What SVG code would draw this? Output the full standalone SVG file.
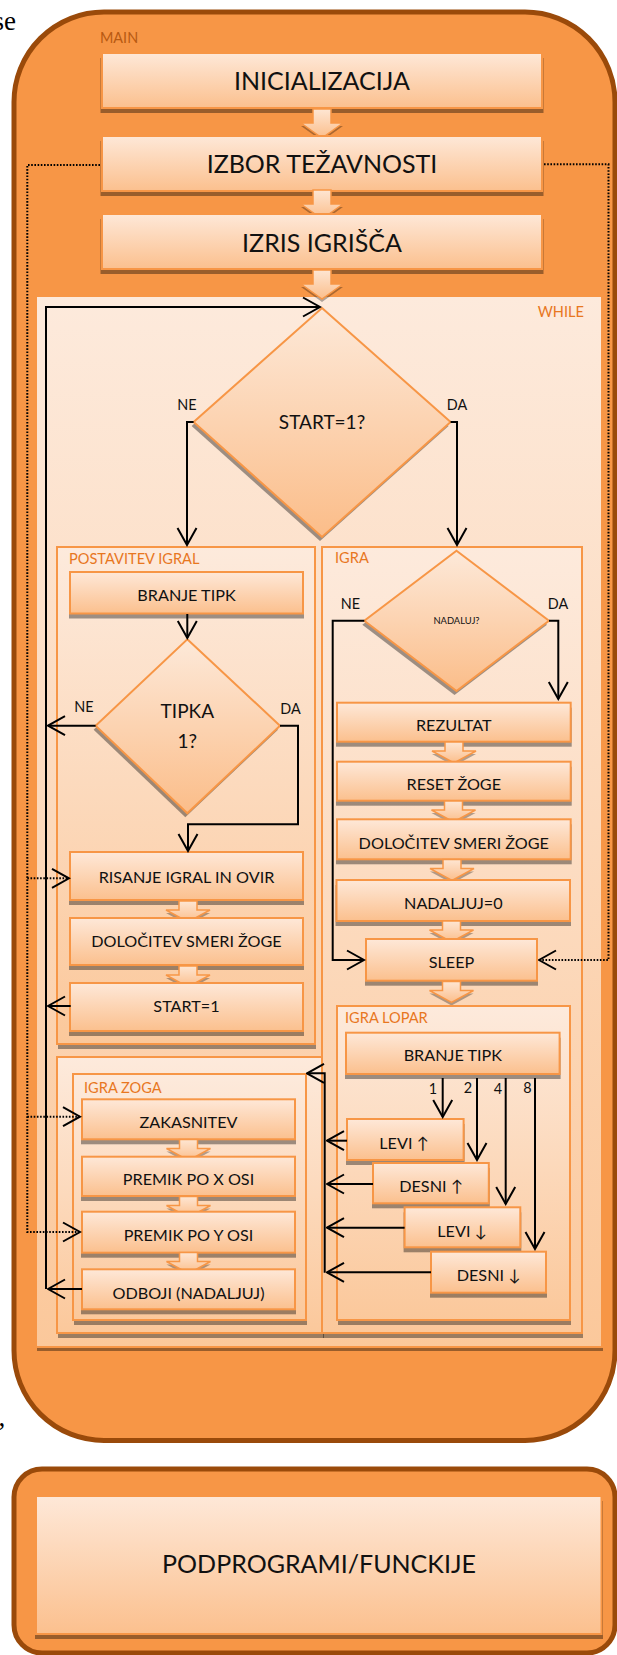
<svg xmlns="http://www.w3.org/2000/svg" width="617" height="1655" viewBox="0 0 617 1655">
<defs>
<linearGradient id="gBox" x1="0" y1="0" x2="0" y2="1"><stop offset="0" stop-color="#FEE8D8"/><stop offset="1" stop-color="#FBC08E"/></linearGradient>
<linearGradient id="gCont" x1="0" y1="0" x2="0" y2="1"><stop offset="0" stop-color="#FDEADC"/><stop offset="1" stop-color="#FBC89B"/></linearGradient>
<linearGradient id="gDia" x1="0" y1="0" x2="0" y2="1"><stop offset="0" stop-color="#FDE9D9"/><stop offset="1" stop-color="#FBBD89"/></linearGradient>
<linearGradient id="gArr" x1="0" y1="0" x2="0" y2="1"><stop offset="0" stop-color="#FEE6D3"/><stop offset="1" stop-color="#FBBE8B"/></linearGradient>
<marker id="ah" viewBox="0 0 20 22" refX="18.5" refY="11" markerWidth="20" markerHeight="22" markerUnits="userSpaceOnUse" orient="auto"><path d="M1.5,1.5 L18.5,11 L1.5,20.5" fill="none" stroke="#000" stroke-width="2"/></marker>
<g id="bam"><path d="M-9,0 H9 V14 H21 L0,29 L-21,14 H-9 Z" transform="translate(0,3)" fill="#000" fill-opacity="0.3"/><path d="M-9,0 H9 V14 H21 L0,29 L-21,14 H-9 Z" fill="url(#gArr)" stroke="#F79646" stroke-width="1.5"/></g>
<g id="bas"><path d="M-9,0 H9 V9 H22 L0,21 L-22,9 H-9 Z" transform="translate(0,3)" fill="#000" fill-opacity="0.3"/><path d="M-9,0 H9 V9 H22 L0,21 L-22,9 H-9 Z" fill="url(#gArr)" stroke="#F79646" stroke-width="1.5"/></g>
<style>
.main{fill:#F79646;stroke:#9A4A0A;stroke-width:5}
.cont{fill:url(#gCont);stroke:#F79646;stroke-width:2}
.box{fill:url(#gBox);stroke:#F79646;stroke-width:2}
.sh{fill:#000;fill-opacity:0.38}
.dia{fill:url(#gDia);stroke:#F79646;stroke-width:2}
text{font-family:Lato,"Open Sans","DejaVu Sans",sans-serif;fill:#111}
.c{text-anchor:middle}
.big{font-size:25px}
.bt{font-size:16.2px}
.lbl{fill:#E8771F;font-size:14.6px}
.yn{font-size:14.4px}
.ln{fill:none;stroke:#000;stroke-width:2}
.dot{fill:none;stroke:#000;stroke-width:2;stroke-dasharray:1.6 1.6}
.ser{font-family:"Liberation Serif","Times New Roman",serif;font-size:27px;fill:#000}
</style>
</defs>

<text class="ser" x="16" y="30" text-anchor="end">se</text>
<text class="ser" x="-1.5" y="1426">,</text>

<g id="main">
<rect class="main" x="14" y="12" width="601" height="1428.5" rx="90" ry="90"/>
<text x="100" y="42.5" style="fill:#B85A12;font-size:14.4px">MAIN</text>
</g>

<g id="n-init">
<rect class="sh" x="100.5" y="58" width="443" height="55"/>
<rect class="box" x="102" y="53" width="440" height="55"/>
<text class="c big" x="322" y="90">INICIALIZACIJA</text>
</g>
<use href="#bam" x="322" y="109"/>
<g id="n-izbor">
<rect class="sh" x="100.5" y="141" width="443" height="55"/>
<rect class="box" x="102" y="136" width="440" height="55"/>
<text class="c big" x="322" y="173">IZBOR TEŽAVNOSTI</text>
</g>
<use href="#bam" x="322" y="190"/>
<g id="n-izris">
<rect class="sh" x="100.5" y="219" width="443" height="55"/>
<rect class="box" x="102" y="214" width="440" height="55"/>
<text class="c big" x="322" y="251.5">IZRIS IGRIŠČA</text>
</g>

<g id="while">
<rect class="sh" x="37" y="300" width="566" height="1051"/>
<rect class="cont" x="36" y="296" width="566" height="1051"/>
<text class="lbl" x="584" y="317" text-anchor="end">WHILE</text>
</g>
<use href="#bam" x="322" y="270"/>

<g id="n-start">
<polygon class="sh" points="320,312 448.6,426 320,541 191.6,426"/>
<polygon class="dia" points="322,308 450.6,422 322,537 193.6,422"/>
<text class="c" x="322" y="428.5" style="font-size:19px">START=1?</text>
</g>

<g id="postavitev">
<rect class="sh" x="58" y="552" width="258" height="497"/>
<rect class="cont" x="57" y="547" width="258" height="497"/>
<text class="lbl" x="69" y="564">POSTAVITEV IGRAL</text>
</g>
<g id="left-bottom">
<rect class="sh" x="58" y="1062" width="266" height="276"/>
<rect class="cont" x="57" y="1057" width="266" height="276"/>
</g>
<g id="igra">
<rect class="sh" x="323" y="552" width="260" height="786"/>
<rect class="cont" x="322" y="547" width="260" height="786"/>
<text class="lbl" x="335" y="563">IGRA</text>
</g>

<g id="n-branje1">
<rect class="sh" x="69" y="577" width="235" height="41.5"/>
<rect class="box" x="70" y="572" width="233" height="41.5"/>
<text class="c bt" x="186.5" y="600.8">BRANJE TIPK</text>
</g>
<g id="n-tipka">
<polygon class="sh" points="185.3,643.3 278,729.7 185.3,817.3 93.6,729.7"/>
<polygon class="dia" points="187.3,639.3 280,725.7 187.3,813.3 95.6,725.7"/>
<text class="c" x="187.3" y="717.5" style="font-size:19px">TIPKA</text>
<text class="c" x="187.3" y="747.8" style="font-size:19px">1?</text>
</g>
<g id="n-risanje">
<rect class="sh" x="69" y="857" width="235" height="48"/>
<rect class="box" x="70" y="852" width="233" height="48"/>
<text class="c bt" x="186.5" y="882.8">RISANJE IGRAL IN OVIR</text>
</g>
<use href="#bas" x="188" y="901"/>
<g id="n-dolocitev1">
<rect class="sh" x="69" y="923" width="235" height="47"/>
<rect class="box" x="70" y="918" width="233" height="47"/>
<text class="c bt" x="186.5" y="946.8">DOLOČITEV SMERI ŽOGE</text>
</g>
<use href="#bas" x="188" y="966"/>
<g id="n-start1">
<rect class="sh" x="69" y="988" width="235" height="48"/>
<rect class="box" x="70" y="983" width="233" height="48"/>
<text class="c bt" x="186.5" y="1011.8">START=1</text>
</g>

<g id="n-nadaluj">
<polygon class="sh" points="454.5,554.7 547,624.7 454.5,695 362.3,624.7"/>
<polygon class="dia" points="456.5,550.7 549,620.7 456.5,691 364.3,620.7"/>
<text class="c" x="456.5" y="624" style="font-size:9.4px">NADALUJ?</text>
</g>
<g id="n-rezultat">
<rect class="sh" x="336" y="707.7" width="235.7" height="39"/>
<rect class="box" x="337" y="702.7" width="233.7" height="39"/>
<text class="c bt" x="453.8" y="730.8">REZULTAT</text>
</g>
<use href="#bas" x="454" y="742"/>
<g id="n-reset">
<rect class="sh" x="336" y="766.7" width="235.7" height="39"/>
<rect class="box" x="337" y="761.7" width="233.7" height="39"/>
<text class="c bt" x="453.8" y="789.8">RESET ŽOGE</text>
</g>
<use href="#bas" x="453.5" y="801"/>
<g id="n-dolocitev2">
<rect class="sh" x="336" y="824.3" width="235.7" height="40"/>
<rect class="box" x="337" y="819.3" width="233.7" height="40"/>
<text class="c bt" x="453.8" y="849">DOLOČITEV SMERI ŽOGE</text>
</g>
<use href="#bas" x="452" y="859.5"/>
<g id="n-nadaljuj0">
<rect class="sh" x="335.5" y="885" width="235.5" height="41"/>
<rect class="box" x="336.5" y="880" width="233.5" height="41"/>
<text class="c bt" x="453.3" y="908.8">NADALJUJ=0</text>
</g>
<use href="#bas" x="451.5" y="921"/>
<g id="n-sleep">
<rect class="sh" x="365" y="944" width="173" height="41.7"/>
<rect class="box" x="366" y="939" width="171" height="41.7"/>
<text class="c bt" x="451.5" y="967.8">SLEEP</text>
</g>
<use href="#bas" x="451.5" y="981.5"/>

<g id="igra-lopar">
<rect class="sh" x="338" y="1011" width="233" height="314"/>
<rect class="cont" x="337" y="1006" width="233" height="314"/>
<text class="lbl" x="345" y="1023">IGRA LOPAR</text>
</g>
<g id="n-branje2">
<rect class="sh" x="345" y="1037.7" width="215.6" height="41.3"/>
<rect class="box" x="346" y="1032.7" width="213.6" height="41.3"/>
<text class="c bt" x="452.8" y="1060.8">BRANJE TIPK</text>
</g>
<g id="n-levi-gor">
<rect class="sh" x="346" y="1124" width="118.6" height="41"/>
<rect class="box" x="347" y="1119" width="116.6" height="41"/>
<text class="c bt" x="404" y="1148.5">LEVI ↑</text>
</g>
<g id="n-desni-gor">
<rect class="sh" x="372" y="1168" width="117.8" height="40.3"/>
<rect class="box" x="373" y="1163" width="115.8" height="40.3"/>
<text class="c bt" x="431" y="1191.8">DESNI ↑</text>
</g>
<g id="n-levi-dol">
<rect class="sh" x="403.6" y="1212.3" width="117.7" height="40"/>
<rect class="box" x="404.6" y="1207.3" width="115.7" height="40"/>
<text class="c bt" x="462" y="1236.5">LEVI ↓</text>
</g>
<g id="n-desni-dol">
<rect class="sh" x="430" y="1256.7" width="117" height="41"/>
<rect class="box" x="431" y="1251.7" width="115" height="41"/>
<text class="c bt" x="488.5" y="1280.8">DESNI ↓</text>
</g>

<g id="igra-zoga">
<rect class="sh" x="74" y="1079" width="233" height="246"/>
<rect class="cont" x="73" y="1074" width="233" height="246"/>
<text class="lbl" x="84" y="1093">IGRA ZOGA</text>
</g>
<g id="n-zakasnitev">
<rect class="sh" x="81" y="1104.3" width="215" height="40"/>
<rect class="box" x="82" y="1099.3" width="213" height="40"/>
<text class="c bt" x="188.5" y="1127.5">ZAKASNITEV</text>
</g>
<use href="#bas" x="188.5" y="1139.5"/>
<g id="n-premik-x">
<rect class="sh" x="81" y="1161.7" width="215" height="39.3"/>
<rect class="box" x="82" y="1156.7" width="213" height="39.3"/>
<text class="c bt" x="188.5" y="1185">PREMIK PO X OSI</text>
</g>
<use href="#bas" x="188.5" y="1196.5"/>
<g id="n-premik-y">
<rect class="sh" x="81" y="1216.7" width="215" height="41"/>
<rect class="box" x="82" y="1211.7" width="213" height="41"/>
<text class="c bt" x="188.5" y="1240.8">PREMIK PO Y OSI</text>
</g>
<use href="#bas" x="188.5" y="1252.5"/>
<g id="n-odboji">
<rect class="sh" x="81" y="1274.3" width="215" height="40"/>
<rect class="box" x="82" y="1269.3" width="213" height="40"/>
<text class="c bt" x="188.5" y="1298.5">ODBOJI (NADALJUJ)</text>
</g>

<g id="connectors">
<path class="ln" d="M46,1289 V307 H320" marker-end="url(#ah)"/>
<path class="ln" d="M95.6,725.7 H48" marker-end="url(#ah)"/>
<path class="ln" d="M70.7,1006 H48" marker-end="url(#ah)"/>
<path class="ln" d="M82,1289 H48" marker-end="url(#ah)"/>
<path class="ln" d="M193.6,422 H187 V545" marker-end="url(#ah)"/>
<path class="ln" d="M450.6,422 H457 V545" marker-end="url(#ah)"/>
<path class="ln" d="M187.3,614 V638" marker-end="url(#ah)"/>
<path class="ln" d="M280,725.7 H298 V824.3 H188 V851" marker-end="url(#ah)"/>
<path class="ln" d="M364.3,620.7 H332.7 V960 H364" marker-end="url(#ah)"/>
<path class="ln" d="M549,620.7 H558.3 V699" marker-end="url(#ah)"/>
<path class="ln" d="M442.7,1078 V1117" marker-end="url(#ah)"/>
<path class="ln" d="M477,1078 V1160" marker-end="url(#ah)"/>
<path class="ln" d="M505.7,1078 V1204" marker-end="url(#ah)"/>
<path class="ln" d="M535,1078 V1249" marker-end="url(#ah)"/>
<path class="ln" d="M324.7,1272.7 V1073.3 H307" marker-end="url(#ah)"/>
<path class="ln" d="M347,1140.7 H327" marker-end="url(#ah)"/>
<path class="ln" d="M373,1184 H327" marker-end="url(#ah)"/>
<path class="ln" d="M404.6,1227.7 H327" marker-end="url(#ah)"/>
<path class="ln" d="M431,1272.3 H327" marker-end="url(#ah)"/>
<path class="dot" d="M100,165 H27.3 V1232 H80" marker-end="url(#ah)"/>
<path class="dot" d="M27.3,878.3 H69" marker-end="url(#ah)"/>
<path class="dot" d="M27.3,1116.7 H80" marker-end="url(#ah)"/>
<path class="dot" d="M544,164.3 H608.5 V960 H539" marker-end="url(#ah)"/>
<text class="c yn" x="187" y="410">NE</text>
<text class="c yn" x="457" y="410">DA</text>
<text class="c yn" x="84" y="712">NE</text>
<text class="c yn" x="290.5" y="714">DA</text>
<text class="c yn" x="350.5" y="608.5">NE</text>
<text class="c yn" x="558" y="609">DA</text>
<text class="c yn" x="433" y="1094">1</text>
<text class="c yn" x="468" y="1093">2</text>
<text class="c yn" x="498" y="1094">4</text>
<text class="c yn" x="527.5" y="1093">8</text>
</g>

<g id="podprogrami">
<rect class="main" x="14" y="1469" width="601" height="184" rx="28" ry="28"/>
<rect class="sh" x="35" y="1501" width="568" height="138"/>
<rect class="box" x="36" y="1496" width="565.5" height="138"/>
<text class="c big" x="319" y="1573">PODPROGRAMI/FUNCKIJE</text>
</g>
</svg>
